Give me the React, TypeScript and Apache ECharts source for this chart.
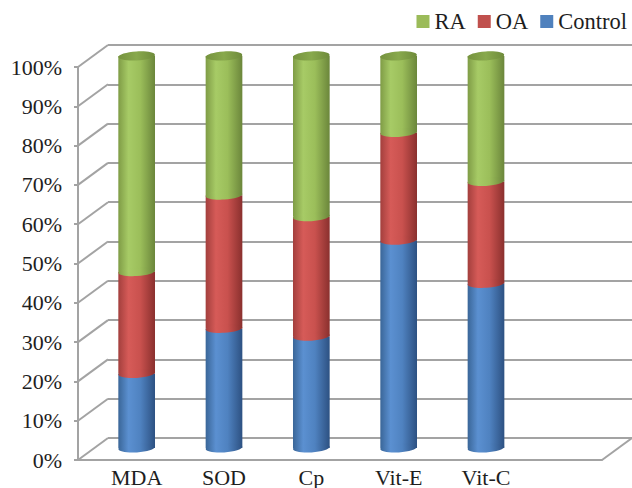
import React, { useEffect, useRef } from "react";
import * as echarts from "echarts";

// ---- data ----
const categories = ["MDA", "SOD", "Cp", "Vit-E", "Vit-C"];
const controlValues = [19, 30.5, 28.5, 53, 42];
const oaValues = [26, 34, 30.5, 27.5, 26];
const raValues = [55, 35.5, 41, 19.5, 32];
const yTicks = [0, 10, 20, 30, 40, 50, 60, 70, 80, 90, 100];
const legendOrder = ["RA", "OA", "Control"];

// ---- layout / style ----
const DX = 30;
const DY = 22;
const FONT = "'Liberation Serif', 'Times New Roman', serif";
const GRID_COLOR = "#a3a3a3";
const TEXT_COLOR = "#1e1e1e";

const palettes: Record<string, string[]> = {
  Control: ["#3a6698", "#5b90d1", "#4f82c0", "#2d5182"],
  OA: ["#a33f3d", "#d65b58", "#c9514e", "#8a302e"],
  RA: ["#7f9c46", "#a7cb66", "#9bbe5a", "#6b863b"],
};
const legendColors: Record<string, string> = {
  Control: "#4f81bd",
  OA: "#c0504d",
  RA: "#9bbb59",
};

function cylFill(name: string) {
  const p = palettes[name];
  return new echarts.graphic.LinearGradient(0, 0, 1, 0, [
    { offset: 0, color: p[0] },
    { offset: 0.28, color: p[1] },
    { offset: 0.6, color: p[2] },
    { offset: 1, color: p[3] },
  ]);
}

function cylinderSeries(name: string, values: number[], bases: number[], isTop: boolean, z: number) {
  return {
    name,
    type: "custom",
    xAxisIndex: 2,
    yAxisIndex: 2,
    z,
    clip: false,
    itemStyle: { color: legendColors[name] },
    encode: { x: 0, y: 2 },
    data: values.map((v, i) => [i, bases[i], v]),
    renderItem: (params: any, api: any) => {
      const cat = api.value(0);
      const base = api.value(1);
      const val = api.value(2);
      const pb = api.coord([cat, base]);
      const pt = api.coord([cat, base + val]);
      const w = api.size([1, 0])[0] * 0.42;
      const cx = pb[0];
      const ry = 4.5;
      const rot = 0.06;
      const children: any[] = [
        {
          type: "rect",
          shape: { x: cx - w / 2, y: pt[1], width: w, height: pb[1] - pt[1] },
          style: { fill: cylFill(name) },
        },
        {
          type: "ellipse",
          originX: cx,
          originY: pb[1],
          rotation: rot,
          shape: { cx, cy: pb[1], rx: w / 2, ry },
          style: { fill: cylFill(name) },
        },
      ];
      if (isTop) {
        children.push({
          type: "ellipse",
          originX: cx,
          originY: pt[1],
          rotation: rot,
          shape: { cx, cy: pt[1], rx: w / 2, ry },
          style: {
            fill: new echarts.graphic.LinearGradient(0, 0, 1, 0, [
              { offset: 0, color: "#76933f" },
              { offset: 0.5, color: "#88a94c" },
              { offset: 1, color: "#6f8b3b" },
            ]),
          },
        });
      }
      return { type: "group", children };
    },
  };
}

export default function App() {
  const ref = useRef<HTMLDivElement>(null);
  useEffect(() => {
    if (!ref.current) return;
    const chart = echarts.init(ref.current, null, { renderer: "svg" });
    const slots = [...categories, ""];
    const oaBases = controlValues.slice();
    const raBases = controlValues.map((c, i) => c + oaValues[i]);
    const zeroBases = controlValues.map(() => 0);

    chart.setOption({
      animation: false,
      backgroundColor: "#ffffff",
      legend: {
        data: legendOrder,
        right: 0,
        top: 5,
        icon: "rect",
        itemWidth: 13,
        itemHeight: 13,
        itemGap: 12,
        textStyle: { fontFamily: FONT, fontSize: 22.5, color: TEXT_COLOR },
      },
      grid: [
        // back wall
        { left: 78 + DX, top: 67 - DY, right: 30 - DX, bottom: 28 + DY },
        // front plane
        { left: 78, top: 67, right: 30, bottom: 28 },
        // mid depth (cylinders)
        { left: 78 + DX / 2, top: 67 - DY / 2, right: 30 - DX / 2, bottom: 28 + DY / 2 },
      ],
      xAxis: [
        { gridIndex: 0, type: "category", data: slots, show: false },
        {
          gridIndex: 1,
          type: "category",
          data: slots,
          axisLine: { show: true, lineStyle: { color: GRID_COLOR, width: 2 } },
          axisTick: { show: false },
          axisLabel: { show: false },
        },
        {
          gridIndex: 2,
          type: "category",
          data: slots,
          axisLine: { show: false },
          axisTick: { show: false },
          axisLabel: { fontFamily: FONT, fontSize: 22, color: TEXT_COLOR, margin: 18, interval: 0 },
        },
      ],
      yAxis: [
        {
          gridIndex: 0,
          type: "value",
          min: 0,
          max: 100,
          interval: 10,
          axisLine: { show: false },
          axisTick: { show: false },
          axisLabel: { show: false },
          splitLine: { show: true, lineStyle: { color: GRID_COLOR, width: 2 } },
        },
        {
          gridIndex: 1,
          type: "value",
          min: 0,
          max: 100,
          interval: 10,
          axisLine: { show: true, lineStyle: { color: GRID_COLOR, width: 2 } },
          axisTick: { show: true, length: 4, lineStyle: { color: GRID_COLOR, width: 2 } },
          axisLabel: {
            formatter: "{value}%",
            fontFamily: FONT,
            fontSize: 22,
            color: TEXT_COLOR,
            margin: 16,
            padding: [4, 0, 0, 0],
          },
          splitLine: { show: false },
        },
        { gridIndex: 2, type: "value", min: 0, max: 100, interval: 10, show: false },
      ],
      series: [
        {
          name: "depthLines",
          type: "custom",
          xAxisIndex: 1,
          yAxisIndex: 1,
          z: 1,
          clip: false,
          silent: true,
          data: yTicks.map((v) => [0, v]),
          renderItem: (params: any, api: any) => {
            const cs = params.coordSys;
            const y = api.coord([0, api.value(1)])[1];
            return {
              type: "line",
              shape: { x1: cs.x, y1: y, x2: cs.x + DX, y2: y - DY },
              style: { stroke: GRID_COLOR, lineWidth: 2 },
            };
          },
        },
        {
          name: "floorEdge",
          type: "custom",
          xAxisIndex: 1,
          yAxisIndex: 1,
          z: 1,
          clip: false,
          silent: true,
          data: [[0, 0]],
          renderItem: (params: any, api: any) => {
            const cs = params.coordSys;
            const y = api.coord([0, api.value(1)])[1];
            const x = cs.x + cs.width;
            return {
              type: "line",
              shape: { x1: x, y1: y, x2: x + DX, y2: y - DY },
              style: { stroke: GRID_COLOR, lineWidth: 2 },
            };
          },
        },
        cylinderSeries("Control", controlValues, zeroBases, false, 3),
        cylinderSeries("OA", oaValues, oaBases, false, 4),
        cylinderSeries("RA", raValues, raBases, true, 5),
      ],
    });
    return () => chart.dispose();
  }, []);
  return (
    <div
      ref={ref}
      style={{ position: "absolute", left: 0, top: 0, width: 632, height: 488 }}
    />
  );
}
